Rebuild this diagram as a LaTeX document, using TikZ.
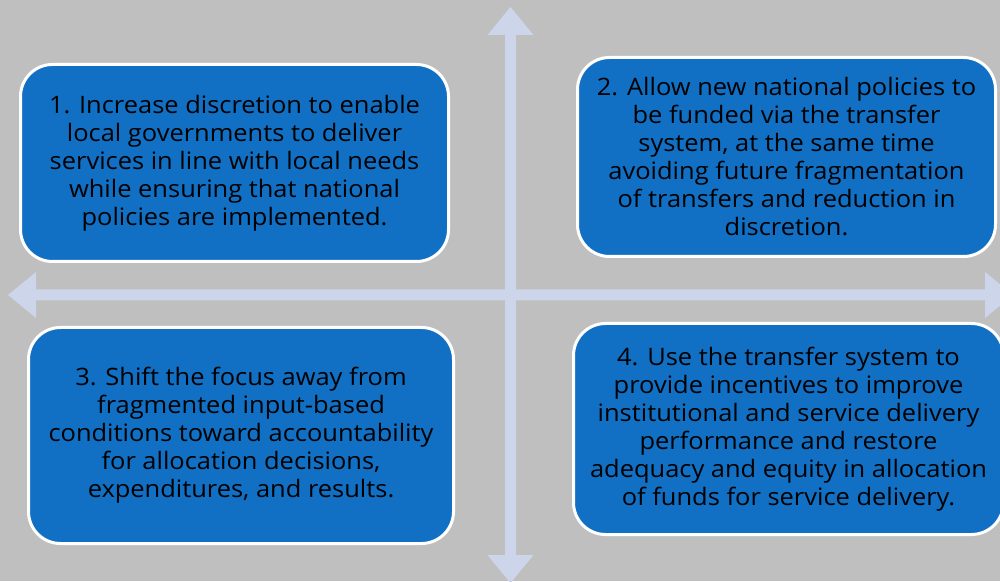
\documentclass[tikz,border=0pt]{standalone}
\usepackage{fontspec}
\setmainfont[FakeStretch=1.06]{Open Sans}
\usetikzlibrary{calc}

\definecolor{pagegray}{HTML}{BFBFBF}
\definecolor{boxblue}{HTML}{1170C4}
\definecolor{axisblue}{HTML}{CDD5EA}

\begin{document}
\begin{tikzpicture}[x=1pt, y=1pt,
    goal/.style={fill=boxblue, draw=white, line width=3pt, rounded corners=32pt,
      align=center, inner sep=0pt, text=black, font=\fontsize{24}{28}\selectfont},
    axis/.style={fill=axisblue}]
    \fill[pagegray] (0,0) rectangle (1000,581);
    \useasboundingbox (0,0) rectangle (1000,581);

    % the two axes
    \fill[axis] (510.5,574) -- (533.5,546) -- (516,546) -- (516,26) -- (533.5,26)
      -- (510.5,-2) -- (487.5,26) -- (505,26) -- (505,546) -- (487.5,546) -- cycle;
    \fill[axis] (8,286) -- (36,309) -- (36,291.5) -- (985,291.5) -- (985,309)
      -- (1013,286) -- (985,263) -- (985,280.5) -- (36,280.5) -- (36,263) -- cycle;

    \node[goal, minimum width=428pt, minimum height=197pt] (discretion) at (234.5,418)
      {1. Increase discretion to enable\\ local governments to deliver\\ services in line with local needs\\ while ensuring that national\\ policies are implemented.};
    \node[goal, minimum width=418pt, minimum height=199pt] (policies) at (786.5,424)
      {2. Allow new national policies to\\ be funded via the transfer\\ system, at the same time\\ avoiding future fragmentation\\ of transfers and reduction in\\ discretion.};
    \node[goal, minimum width=425pt, minimum height=216pt] (focus) at (241,145.5)
      {3. Shift the focus away from\\ fragmented input-based\\ conditions toward accountability\\ for allocation decisions,\\ expenditures, and results.};
    \node[goal, minimum width=430pt, minimum height=211pt] (incentives) at (788.5,152)
      {4. Use the transfer system to\\ provide incentives to improve\\ institutional and service delivery\\ performance and restore\\ adequacy and equity in allocation\\ of funds for service delivery.};
  \end{tikzpicture}
\end{document}
